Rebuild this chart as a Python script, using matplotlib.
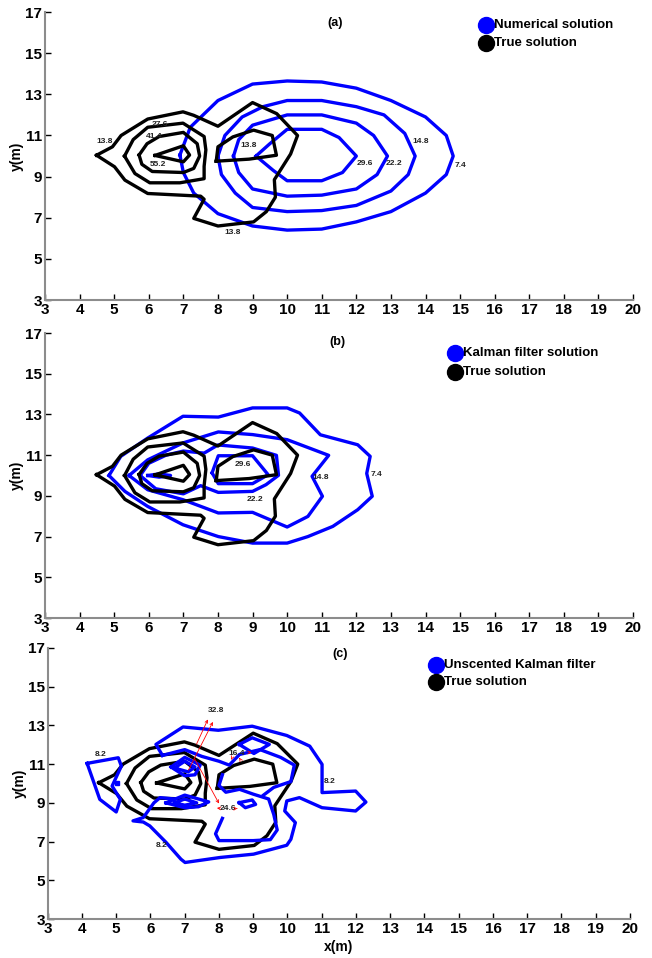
import matplotlib
matplotlib.use('Agg')
import matplotlib.pyplot as plt

plt.rcParams['font.family'] = ['Liberation Sans Narrow', 'Liberation Sans', 'DejaVu Sans']
plt.rcParams['font.weight'] = 'bold'

x_ticks = list(range(3, 21))
y_ticks = [3, 5, 7, 9, 11, 13, 15, 17]
panel_titles = ['(a)', '(b)', '(c)']
legend_first = ['Numerical solution', 'Kalman filter solution', 'Unscented Kalman filter']
legend_second = 'True solution'

# ---- True solution contours (same in all panels) ----
true_outer_x = [4.49, 4.95, 5.2, 5.97, 6.99, 7.3, 8.0, 9.0, 9.7, 10.3, 10.1, 9.63, 9.66, 9.4, 9.03, 8.0, 7.3, 7.6, 7.5, 6.33, 5.97, 5.31, 5.01, 4.49]
true_outer_y = [10.04, 10.45, 11.0, 11.8, 12.15, 11.98, 11.45, 12.6, 12.06, 11.0, 10.1, 8.85, 8.0, 7.3, 6.8, 6.6, 6.97, 7.9, 8.05, 8.15, 8.18, 8.83, 9.48, 10.04]
true_c2_x = [5.3, 5.55, 5.97, 6.99, 7.6, 7.65, 7.6, 7.6, 6.9, 6.03, 5.6, 5.3]
true_c2_y = [10.0, 10.8, 11.4, 11.6, 10.95, 10.3, 9.5, 8.9, 8.7, 8.7, 9.15, 10.0]
true_c3_x = [5.72, 5.95, 6.3, 7.0, 7.4, 7.47, 7.3, 7.0, 6.1, 5.8, 5.72]
true_c3_y = [10.05, 10.6, 10.95, 11.15, 10.6, 10.0, 9.4, 9.2, 9.25, 9.6, 10.05]
true_c4_x = [6.18, 7.0, 7.18, 7.0, 6.18]
true_c4_y = [10.03, 10.5, 10.05, 9.72, 10.03]
true_r_x = [7.95, 8.0, 8.43, 9.03, 9.57, 9.69, 8.9, 7.95]
true_r_y = [9.75, 10.45, 10.93, 11.26, 11.0, 10.04, 9.85, 9.75]

true_labels = ['13.8', '27.6', '41.4', '55.2', '13.8', '13.8']
true_label_x = [4.73, 6.33, 6.15, 6.27, 8.89, 8.41]
true_label_y = [10.69, 11.55, 10.93, 9.59, 10.5, 6.27]

# ---- (a) Numerical solution ----
num_74_x = [6.9, 7.2, 8.0, 9.0, 10.0, 11.0, 12.0, 13.0, 14.0, 14.6, 14.8, 14.6, 14.0, 13.0, 12.0, 11.0, 10.0, 9.0, 8.0, 7.3, 7.0, 6.9]
num_74_y = [10.05, 11.4, 12.7, 13.5, 13.65, 13.6, 13.3, 12.7, 11.9, 11.0, 10.0, 9.1, 8.2, 7.3, 6.8, 6.45, 6.4, 6.6, 7.2, 8.2, 9.2, 10.05]
num_148_x = [8.0, 8.2, 8.7, 9.3, 10.0, 11.0, 12.0, 12.8, 13.4, 13.7, 13.5, 13.0, 12.0, 11.0, 10.0, 9.0, 8.5, 8.1, 8.0]
num_148_y = [10.0, 11.0, 11.9, 12.4, 12.7, 12.7, 12.4, 12.0, 11.1, 10.0, 9.1, 8.3, 7.6, 7.35, 7.3, 7.5, 8.2, 9.1, 10.0]
num_222_x = [8.45, 8.6, 9.0, 10.0, 11.0, 12.0, 12.5, 12.9, 12.6, 12.0, 11.0, 10.0, 9.0, 8.6, 8.45]
num_222_y = [10.0, 10.8, 11.5, 12.0, 12.0, 11.6, 11.0, 10.0, 9.1, 8.4, 8.1, 8.05, 8.4, 9.2, 10.0]
num_296_x = [9.1, 9.5, 10.0, 11.0, 11.5, 12.0, 11.6, 11.0, 10.0, 9.6, 9.1]
num_296_y = [10.0, 10.6, 11.3, 11.3, 10.9, 10.0, 9.2, 8.8, 8.8, 9.3, 10.0]
num_labels = ['29.6', '22.2', '14.8', '7.4']
num_label_x = [12.25, 13.1, 13.85, 15.0]
num_label_y = [9.65, 9.65, 10.7, 9.55]

# ---- (b) Kalman filter ----
kal_74_x = [4.85, 5.19, 5.97, 6.99, 8.01, 9.0, 10.0, 10.36, 10.96, 12.04, 12.4, 12.3, 12.46, 12.04, 11.32, 10.6, 10.0, 9.0, 8.01, 6.99, 5.97, 5.31, 4.85]
kal_74_y = [10.0, 10.94, 11.84, 12.91, 12.87, 13.32, 13.32, 13.07, 12.0, 11.51, 10.94, 10.1, 8.98, 8.32, 7.5, 7.0, 6.68, 6.68, 7.0, 7.58, 8.48, 9.22, 10.0]
kal_148_x = [5.43, 5.97, 6.99, 8.01, 9.0, 10.0, 11.2, 10.72, 11.02, 10.6, 10.0, 9.0, 8.01, 6.99, 5.97, 5.43]
kal_148_y = [10.0, 10.77, 11.6, 12.14, 12.01, 11.76, 10.99, 9.96, 8.98, 7.99, 7.47, 8.19, 8.16, 8.81, 9.3, 10.0]
kal_222_x = [5.75, 6.0, 6.5, 7.0, 7.6, 8.0, 9.0, 9.69, 9.75, 9.39, 9.0, 8.01, 7.5, 7.0, 6.2, 5.75]
kal_222_y = [10.0, 10.6, 11.0, 11.2, 11.1, 11.5, 11.35, 10.99, 10.01, 9.55, 9.22, 9.17, 9.5, 9.1, 9.35, 10.0]
kal_296_x = [7.83, 8.01, 9.0, 9.45, 9.0, 8.01, 7.83]
kal_296_y = [10.13, 10.97, 10.97, 10.04, 9.6, 9.6, 10.13]
kal_small_x = [5.97, 6.3, 6.63, 6.3, 5.97]
kal_small_y = [10.0, 10.08, 10.0, 9.92, 10.0]
kal_labels = ['29.6', '14.8', '7.4', '22.2']
kal_label_x = [8.73, 10.96, 12.58, 9.06]
kal_label_y = [10.53, 9.88, 10.04, 8.81]

# ---- (c) Unscented Kalman filter ----
ukf_left_x = [4.15, 5.06, 5.15, 4.88, 5.12, 5.0, 4.52, 4.15]
ukf_left_y = [11.04, 11.33, 10.9, 9.87, 9.18, 8.53, 9.18, 11.04]
ukf_outer_x = [6.35, 6.16, 6.95, 7.98, 8.97, 9.98, 10.65, 11.01, 11.01, 11.99, 12.29, 11.99, 11.01, 10.35, 9.98, 9.92, 10.23, 10.1, 9.98, 9.01, 8.04, 7.01, 6.89, 6.46, 5.98, 5.79, 5.49, 5.79, 6.1, 6.28, 6.7]
ukf_outer_y = [11.45, 12.02, 12.92, 12.75, 12.96, 12.48, 11.93, 10.99, 9.53, 9.61, 9.04, 8.58, 8.75, 9.27, 9.1, 8.58, 7.98, 7.12, 6.81, 6.35, 6.18, 5.92, 6.09, 6.95, 7.81, 8.01, 8.07, 8.24, 9.0, 9.27, 9.2]
ukf_top_x = [6.35, 7.0, 7.5, 8.0, 8.3, 8.6, 9.2, 9.8, 10.2, 10.1, 9.6, 9.3]
ukf_top_y = [11.45, 11.75, 11.4, 11.15, 10.95, 11.5, 11.75, 11.35, 10.95, 10.1, 9.8, 9.4]
ukf_in_x = [8.1, 8.0, 8.2, 8.6, 9.0, 9.45, 9.6, 9.7, 9.5, 9.0, 8.0, 7.9, 8.1]
ukf_in_y = [10.45, 9.9, 9.55, 9.7, 9.45, 9.2, 8.4, 7.6, 7.1, 7.05, 7.05, 7.4, 8.2]
ukf_c1_x = [6.6, 7.0, 7.45, 7.3, 7.0, 6.6]
ukf_c1_y = [10.85, 11.35, 10.95, 10.45, 10.4, 10.85]
ukf_c2_x = [6.7, 7.0, 7.3, 7.1, 6.7]
ukf_c2_y = [10.8, 11.15, 10.85, 10.6, 10.8]
ukf_c3_x = [6.45, 7.0, 7.7, 7.4, 7.0, 6.45]
ukf_c3_y = [9.0, 9.4, 9.05, 8.8, 8.75, 9.0]
ukf_c4_x = [6.7, 7.0, 7.35, 7.0, 6.7]
ukf_c4_y = [9.0, 9.2, 9.0, 8.88, 9.0]
ukf_dia_x = [8.59, 8.97, 9.47, 9.02, 8.59]
ukf_dia_y = [12.02, 12.36, 12.02, 11.55, 12.02]
ukf_loop_x = [8.59, 8.97, 9.07, 8.77, 8.59]
ukf_loop_y = [9.01, 9.15, 8.92, 8.75, 9.01]
ukf_dot_x = [5.03]
ukf_dot_y = [10.04]
ukf_labels = ['8.2', '8.2', '8.2', '32.8', '16.4', '24.6']
ukf_label_x = [4.54, 11.22, 6.34, 7.92, 8.53, 8.26]
ukf_label_y = [11.5, 10.09, 6.78, 13.77, 11.55, 8.7]
arrow_start_x = [7.31, 7.07, 8.4, 8.8, 8.65, 7.25, 8.1, 8.45]
arrow_start_y = [11.9, 10.56, 11.4, 11.6, 11.16, 11.4, 8.7, 8.7]
arrow_end_x = [7.71, 7.86, 8.32, 8.95, 8.55, 8.04, 7.86, 8.62]
arrow_end_y = [13.44, 13.31, 11.1, 11.6, 11.45, 8.84, 8.75, 8.72]

BLUE = '#0000FF'
LW = 2.4

fig = plt.figure(figsize=(6.52, 9.58), dpi=100)
rects = [[0.069, 0.6868, 0.902, 0.3006],
         [0.069, 0.3549, 0.902, 0.2975],
         [0.0732, 0.0407, 0.893, 0.2829]]
axes = [fig.add_axes(r) for r in rects]

true_contours = [(true_outer_x, true_outer_y), (true_c2_x, true_c2_y), (true_c3_x, true_c3_y),
                 (true_c4_x, true_c4_y), (true_r_x, true_r_y)]

def style(ax):
    ax.set_xlim(3, 20)
    ax.set_ylim(3, 17)
    ax.set_xticks(x_ticks)
    ax.set_yticks(y_ticks)
    for s in ['top', 'right']:
        ax.spines[s].set_visible(False)
    for s in ['left', 'bottom']:
        ax.spines[s].set_color('#8c8c8c')
        ax.spines[s].set_linewidth(1.5)
    ax.tick_params(direction='in', length=4, width=1, colors='black', labelsize=11, pad=2)
    for lab in ax.get_xticklabels() + ax.get_yticklabels():
        lab.set_fontweight('bold')
    ax.set_ylabel('y(m)', fontsize=10, fontweight='bold', labelpad=1)

def draw_true(ax):
    for cx, cy in true_contours:
        ax.plot(cx, cy, color='black', lw=LW)

def labels(ax, texts, xs, ys):
    for t, x, y in zip(texts, xs, ys):
        ax.text(x, y, t, fontsize=6, fontweight='bold', ha='center', va='center', color='#222222')

def legend(ax, lx, ly1, ly2, tx, t1):
    ax.plot([lx], [ly1], 'o', color=BLUE, ms=11.5, clip_on=False)
    ax.plot([lx], [ly2], 'o', color='black', ms=11.5, clip_on=False)
    ax.text(tx, ly1, t1, fontsize=9.5, fontweight='bold', va='center', ha='left')
    ax.text(tx, ly2, legend_second, fontsize=9.5, fontweight='bold', va='center', ha='left')

# (a)
ax = axes[0]
style(ax)
for cx, cy in [(num_74_x, num_74_y), (num_148_x, num_148_y), (num_222_x, num_222_y), (num_296_x, num_296_y)]:
    ax.plot(cx, cy, color=BLUE, lw=LW)
draw_true(ax)
labels(ax, num_labels, num_label_x, num_label_y)
labels(ax, true_labels, true_label_x, true_label_y)
ax.text(11.4, 16.45, panel_titles[0], fontsize=9, fontweight='bold', ha='center', va='center')
legend(ax, 15.75, 16.37, 15.5, 15.98, legend_first[0])

# (b)
ax = axes[1]
style(ax)
for cx, cy in [(kal_74_x, kal_74_y), (kal_148_x, kal_148_y), (kal_222_x, kal_222_y), (kal_296_x, kal_296_y), (kal_small_x, kal_small_y)]:
    ax.plot(cx, cy, color=BLUE, lw=LW)
draw_true(ax)
labels(ax, kal_labels, kal_label_x, kal_label_y)
ax.text(11.44, 16.56, panel_titles[1], fontsize=9, fontweight='bold', ha='center', va='center')
legend(ax, 14.85, 16.02, 15.08, 15.08, legend_first[1])

# (c)
ax = axes[2]
style(ax)
draw_true(ax)
for cx, cy in [(ukf_left_x, ukf_left_y), (ukf_outer_x, ukf_outer_y), (ukf_top_x, ukf_top_y), (ukf_in_x, ukf_in_y),
               (ukf_c1_x, ukf_c1_y), (ukf_c2_x, ukf_c2_y), (ukf_c3_x, ukf_c3_y), (ukf_c4_x, ukf_c4_y),
               (ukf_dia_x, ukf_dia_y), (ukf_loop_x, ukf_loop_y)]:
    ax.plot(cx, cy, color=BLUE, lw=LW)
ax.plot(ukf_dot_x, ukf_dot_y, 's', color=BLUE, ms=3)
labels(ax, ukf_labels, ukf_label_x, ukf_label_y)
for sx, sy, ex, ey in zip(arrow_start_x, arrow_start_y, arrow_end_x, arrow_end_y):
    ax.annotate('', xy=(ex, ey), xytext=(sx, sy),
                arrowprops=dict(arrowstyle='->', color='red', lw=0.6, mutation_scale=5))
ax.text(11.53, 16.7, panel_titles[2], fontsize=9, fontweight='bold', ha='center', va='center')
legend(ax, 14.34, 16.12, 15.24, 14.57, legend_first[2])
ax.set_xlabel('x(m)', fontsize=10, fontweight='bold', labelpad=3)

fig.savefig('out.png', dpi=100)
